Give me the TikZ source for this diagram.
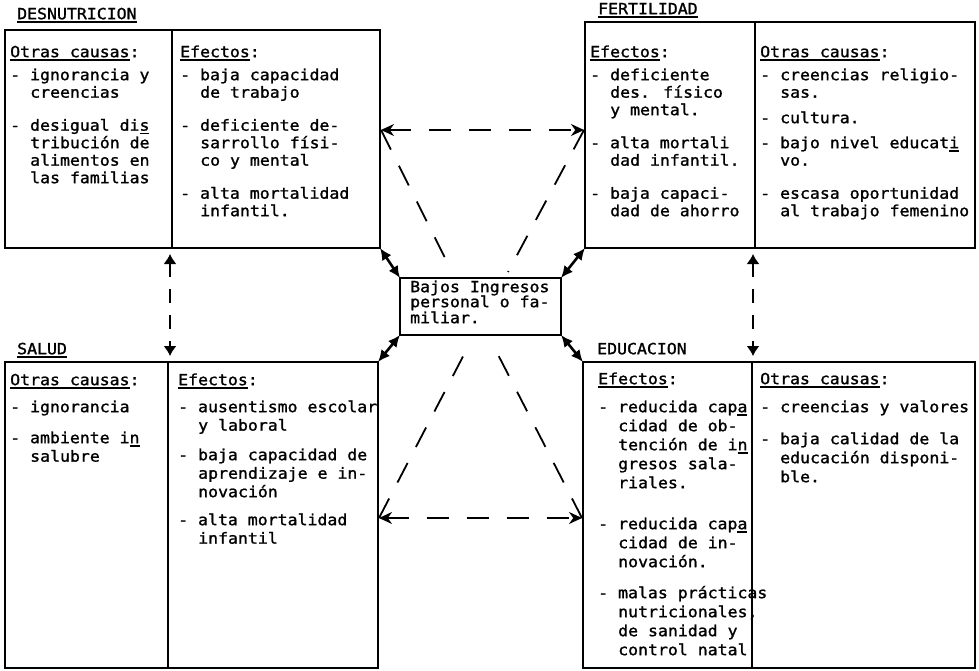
\documentclass[tikz,border=0pt]{standalone}
\usepackage{fontspec}
\newfontfamily\tw[FakeStretch=1.08,FakeBold=1.3]{DejaVu Sans Mono}
\usetikzlibrary{arrows.meta}
\newcommand\ulx[1]{\setbox0\hbox{#1}\rlap{\rule[-3.5pt]{\wd0}{1.5pt}}\box0}
\begin{document}
\begin{tikzpicture}[x=1pt,y=-1pt,
  box/.style={draw, line width=1.8pt, inner sep=0pt, outer sep=0pt, anchor=north west},
  txt/.style={font=\tw\fontsize{15.3}{18}\selectfont, inner sep=0pt, anchor=mid west},
  div/.style={line width=1.8pt},
  thickarrow/.style={line width=2.6pt, {Latex[length=12pt,width=11pt]}-{Latex[length=12pt,width=11pt]}},
  dsh/.style={line width=1.8pt, dash pattern=on 22pt off 18pt},
  vdsh/.style={line width=1.6pt, dash pattern=on 14pt off 12pt, {Latex[length=10pt,width=13pt]}-{Latex[length=10pt,width=13pt]}},
  darrow/.style={dsh, {Stealth[length=13pt,width=12pt]}-{Stealth[length=13pt,width=12pt]}}
]
\fill[white] (0,0) rectangle (979,671);
\useasboundingbox (0,0) rectangle (979,671);

% boxes
\node[box, minimum width=375pt, minimum height=218pt] (tl) at (5,30) {};
\node[box, minimum width=390pt, minimum height=226pt] (tr) at (585,22) {};
\node[box, minimum width=373pt, minimum height=306pt] (bl) at (5,362) {};
\node[box, minimum width=392pt, minimum height=306pt] (br) at (583,362) {};
\node[box, minimum width=161pt, minimum height=57pt] (cb) at (400,278) {};

% dividers
\draw[div] ([xshift=167pt]tl.north west) -- ([xshift=167pt]tl.south west);
\draw[div] ([xshift=170pt]tr.north west) -- ([xshift=170pt]tr.south west);
\draw[div] ([xshift=163pt]bl.north west) -- ([xshift=163pt]bl.south west);
\draw[div] ([xshift=169pt]br.north west) -- ([xshift=169pt]br.south west);

% titles
\node[txt] (lab1) at (17,17) {\ulx{DESNUTRICION}};
\node[txt] (lab2) at (598,12) {\ulx{FERTILIDAD}};
\node[txt] (lab3) at (17,352) {\ulx{SALUD}};
\node[txt] (lab4) at (597,352) {EDUCACION};

% DESNUTRICION
\node[txt] (tlh1) at (10,55) {\ulx{Otras causas}:};
\node[txt] (tlh2) at (180,55) {\ulx{Efectos}:};
\foreach \yy/\xx/\tx [count=\i] in {78/10/{- ignorancia y}, 95.5/30/{creencias}, 128.5/10/{- desigual di\ulx{s}}, 146/30/{tribución de}, 163.5/30/{alimentos en}, 181/30/{las familias}}
  \node[txt] (tla\i) at (\xx,\yy) {\tx};
\foreach \yy/\xx/\tx [count=\i] in {78/180/{- baja capacidad}, 95.5/200/{de trabajo}, 128.5/180/{- deficiente de-}, 146/200/{sarrollo físi-}, 163.5/200/{co y mental}, 196.5/180/{- alta mortalidad}, 214/200/{infantil.}}
  \node[txt] (tlb\i) at (\xx,\yy) {\tx};

% FERTILIDAD
\node[txt] (trh1) at (590,55) {\ulx{Efectos}:};
\node[txt] (trh2) at (760,55) {\ulx{Otras causas}:};
\foreach \yy/\xx/\tx [count=\i] in {78/590/{- deficiente}, 95.5/610/{des. físico}, 113/610/{y mental.}, 146/590/{- alta mortali}, 163.5/610/{dad infantil.}, 196.5/590/{- baja capaci-}, 214/610/{dad de ahorro}}
  \node[txt] (tra\i) at (\xx,\yy) {\tx};
\foreach \yy/\xx/\tx [count=\i] in {78/760/{- creencias religio-}, 95.5/780/{sas.}, 121/760/{- cultura.}, 146/760/{- bajo nivel educat\ulx{i}}, 163.5/780/{vo.}, 196.5/760/{- escasa oportunidad}, 214/780/{al trabajo femenino}}
  \node[txt] (trb\i) at (\xx,\yy) {\tx};

% SALUD
\node[txt] (blh1) at (10,383) {\ulx{Otras causas}:};
\node[txt] (blh2) at (178,383) {\ulx{Efectos}:};
\foreach \yy/\xx/\tx [count=\i] in {410/10/{- ignorancia}, 441/10/{- ambiente i\ulx{n}}, 459.5/30/{salubre}}
  \node[txt] (bla\i) at (\xx,\yy) {\tx};
\foreach \yy/\xx/\tx [count=\i] in {410/178/{- ausentismo escolar}, 428.5/198/{y laboral}, 458/178/{- baja capacidad de}, 476.5/198/{aprendizaje e in-}, 495/198/{novación}, 523/178/{- alta mortalidad}, 541.5/198/{infantil}}
  \node[txt] (blb\i) at (\xx,\yy) {\tx};

% EDUCACION
\node[txt] (brh1) at (598,382) {\ulx{Efectos}:};
\node[txt] (brh2) at (760,382) {\ulx{Otras causas}:};
\foreach \yy/\xx/\tx [count=\i] in {410/598/{- reducida cap\ulx{a}}, 429/618/{cidad de ob-}, 448/618/{tención de i\ulx{n}}, 467/618/{gresos sala-}, 486/618/{riales.}, 527/598/{- reducida cap\ulx{a}}, 546/618/{cidad de in-}, 565/618/{novación.}, 596/598/{- malas prácticas}, 615/618/{nutricionales,}, 634/618/{de sanidad y}, 653/618/{control natal}}
  \node[txt] (bra\i) at (\xx,\yy) {\tx};
\foreach \yy/\xx/\tx [count=\i] in {410/760/{- creencias y valores}, 442/760/{- baja calidad de la}, 461/780/{educación disponi-}, 480/780/{ble.}}
  \node[txt] (brb\i) at (\xx,\yy) {\tx};

% centre
\node[txt] (c1) at (410,290) {Bajos Ingresos};
\node[txt] (c2) at (410,305) {personal o fa-};
\node[txt] (c3) at (410,321) {miliar.};

% solid arrows
\draw[thickarrow] (tl.south east) -- (cb.north west);
\draw[thickarrow] (tr.south west) -- (cb.north east);
\draw[thickarrow] (bl.north east) -- (cb.south west);
\draw[thickarrow] (br.north west) -- (cb.south east);

% dashed connectors
\coordinate (va1) at (170,254);
\coordinate (vb1) at (170,356);
\coordinate (va2) at (753,254);
\coordinate (vb2) at (753,356);
\draw[vdsh] (va1) -- (vb1);
\draw[vdsh] (va2) -- (vb2);

\coordinate (ha1) at (381,130);
\coordinate (hb1) at (584,130);
\coordinate (ha2) at (379,518);
\coordinate (hb2) at (582,518);
\draw[darrow] (ha1) -- (hb1);
\draw[darrow] (ha2) -- (hb2);

\coordinate (d1) at (452,272);
\coordinate (d2) at (508,272);
\coordinate (d3) at (470,343);
\coordinate (d4) at (492,343);
\draw[dsh] (ha1) -- (d1);
\draw[dsh] (hb1) -- (d2);
\draw[dsh] (ha2) -- (d3);
\draw[dsh] (hb2) -- (d4);
\end{tikzpicture}
\end{document}
